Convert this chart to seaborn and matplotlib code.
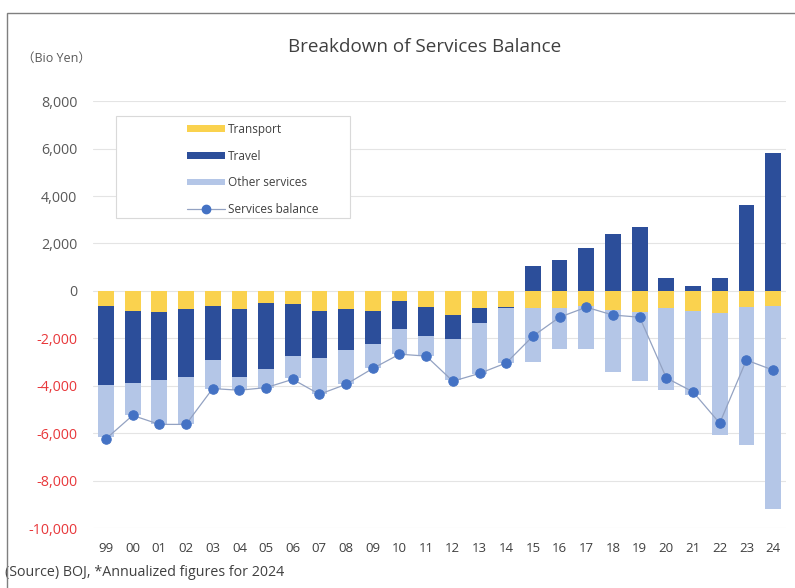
import numpy as np
import pandas as pd
import seaborn as sns
import matplotlib.pyplot as plt
from matplotlib.patches import Patch, Rectangle
from matplotlib.lines import Line2D

# Services balance breakdown, billion yen (2024 annualized)
years = ["99", "00", "01", "02", "03", "04", "05", "06", "07", "08", "09", "10", "11",
         "12", "13", "14", "15", "16", "17", "18", "19", "20", "21", "22", "23", "24"]
transport = [-640, -830, -900, -760, -640, -760, -500, -560, -830, -760, -830, -410, -660,
             -1020, -730, -660, -710, -710, -640, -800, -880, -730, -830, -940, -660, -640]
travel = [-3350, -3070, -2840, -2890, -2290, -2890, -2780, -2190, -2020, -1750, -1410, -1210, -1230,
          -1030, -640, -60, 1060, 1310, 1790, 2400, 2680, 560, 220, 560, 3640, 5830]
other = [-2190, -1340, -1890, -1980, -1200, -540, -800, -940, -1480, -1430, -1030, -1050, -860,
         -1720, -2120, -2320, -2290, -1750, -1820, -2610, -2920, -3460, -3570, -5120, -5860, -8570]
balance = [-6240, -5250, -5630, -5630, -4120, -4190, -4080, -3730, -4360, -3940, -3270, -2670, -2750,
           -3810, -3480, -3040, -1910, -1110, -690, -1020, -1110, -3670, -4260, -5580, -2920, -3340]

C_TRANSPORT = "#FAD24E"
C_TRAVEL = "#2C4E9A"
C_OTHER = "#B4C6E7"
C_DOT = "#4472C4"
C_LINE = "#93A2C2"

sns.set_theme(style="white")
plt.rcParams["font.family"] = ["Open Sans", "DejaVu Sans", "Noto Sans CJK JP"]

df = pd.DataFrame({"year": years, "transport": transport, "travel": travel,
                   "other": other, "balance": balance})
neg_travel = df["travel"].clip(upper=0)
df["pos_travel"] = df["travel"].clip(lower=0)
df["lvl_transport"] = df["transport"]
df["lvl_travel"] = df["transport"] + neg_travel
df["lvl_other"] = df["lvl_travel"] + df["other"]

fig = plt.figure(figsize=(7.95, 5.88), dpi=100)
ax = fig.add_axes([0.1165, 0.102, 0.8727, 0.726])

bar_kw = dict(order=years, width=0.59, saturation=1, ax=ax, errorbar=None, linewidth=0)
# Negative side stacked outermost-first, positive travel drawn upward from zero
sns.barplot(data=df, x="year", y="lvl_other", color=C_OTHER, **bar_kw)
sns.barplot(data=df, x="year", y="lvl_travel", color=C_TRAVEL, **bar_kw)
sns.barplot(data=df, x="year", y="lvl_transport", color=C_TRANSPORT, **bar_kw)
sns.barplot(data=df, x="year", y="pos_travel", color=C_TRAVEL, **bar_kw)

sns.lineplot(x=np.arange(len(years)), y=df["balance"], ax=ax, color=C_LINE, lw=0.9,
             marker="o", markersize=6.8, markerfacecolor=C_DOT, markeredgecolor=C_DOT,
             zorder=5)

ax.set_xlim(-0.5, len(years) - 0.5)
ax.set_xticks(range(len(years)))
ax.set_xticklabels(years)
ax.set_ylim(-10000, 8000)
yt = list(range(-10000, 8001, 2000))
ax.set_yticks(yt)
ax.set_yticklabels([f"{v:,}" for v in yt])
for lbl, v in zip(ax.get_yticklabels(), yt):
    lbl.set_color("#E8383B" if v < 0 else "#595959")
for lbl in ax.get_xticklabels():
    lbl.set_color("#404040")
ax.tick_params(axis="y", length=0, pad=11, labelsize=10.3)
ax.tick_params(axis="x", length=0, pad=10, labelsize=9.5)
ax.set_xlabel("")
ax.set_ylabel("")
ax.yaxis.grid(True, color="#E4E4E4", lw=0.8)
ax.set_axisbelow(True)
for s in ax.spines.values():
    s.set_visible(False)

fig.text(425 / 795, 1 - 47 / 588, "Breakdown of Services Balance", ha="center", va="center",
         fontsize=13.6, color="#404040")
fig.text(22 / 795, 1 - 58 / 588, "（Bio Yen）", ha="left", va="center",
         fontsize=9, color="#595959")
fig.text(5 / 795, 1 - 572 / 588, "(Source) BOJ, *Annualized figures for 2024", ha="left",
         va="center", fontsize=10.3, color="#404040")

# Outer frame
fig.add_artist(Rectangle((7 / 795, -0.05), 1.2, 1 - 13 / 588 + 0.05, transform=fig.transFigure,
                         fill=False, ec="#7F7F7F", lw=1.0, zorder=10))

# Legend box and entries
fig.add_artist(Rectangle((116 / 795, 1 - 218 / 588), 234 / 795, 102 / 588,
                         transform=fig.transFigure, fc="white", ec="#D9D9D9", lw=0.8, zorder=3))
handles = [
    Patch(facecolor=C_TRANSPORT, edgecolor="none", label="Transport"),
    Patch(facecolor=C_TRAVEL, edgecolor="none", label="Travel"),
    Patch(facecolor=C_OTHER, edgecolor="none", label="Other services"),
    Line2D([], [], color=C_LINE, lw=0.9, marker="o", markersize=6,
           markerfacecolor=C_DOT, markeredgecolor=C_DOT, label="Services balance"),
]
leg = fig.legend(handles=handles, loc="upper left", bbox_to_anchor=(187 / 795, 1 - 123 / 588),
                 bbox_transform=fig.transFigure, frameon=False, fontsize=8.5,
                 handlelength=3.2, handleheight=0.5, handletextpad=0.25, labelspacing=1.15,
                 borderpad=0, borderaxespad=0)
leg.set_zorder(4)
for t in leg.get_texts():
    t.set_color("#404040")

fig.savefig("out.png", dpi=100, facecolor="white")
